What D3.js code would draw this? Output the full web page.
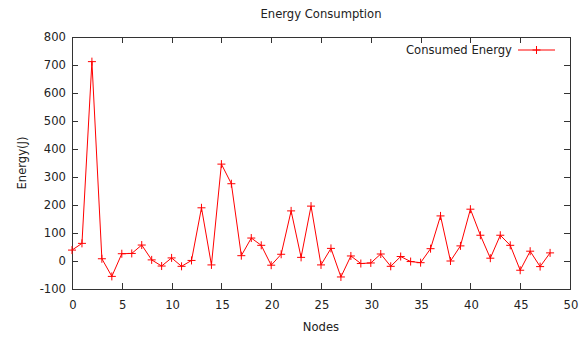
<!DOCTYPE html>
<html>
<head>
<meta charset="utf-8">
<script src="https://d3js.org/d3.v7.min.js"></script>
<style>
  body { margin: 0; background: #fff; }
  svg text { font-family: "DejaVu Sans", sans-serif; font-size: 11.6px; fill: #222; }
</style>
</head>
<body>
<svg width="582" height="337"></svg>
<script>
// energy per node
var nodes = d3.range(0, 49);
var energy = [39, 63, 712, 8, -55, 26, 27, 57, 4, -18,
              11, -19, 2, 190, -14, 346, 276, 19, 82, 56,
              -15, 24, 179, 13, 196, -14, 45, -57, 18, -9,
              -7, 25, -19, 16, -2, -6, 44, 161, 0, 54,
              185, 92, 10, 92, 56, -33, 35, -20, 29];
var xTicks = [0, 5, 10, 15, 20, 25, 30, 35, 40, 45, 50];
var yTicks = [-100, 0, 100, 200, 300, 400, 500, 600, 700, 800];

var width = 582, height = 337;
var margin = {left: 72, right: 12, top: 37, bottom: 48};

var x = d3.scaleLinear().domain([0, 50]).range([margin.left, width - margin.right]);
var y = d3.scaleLinear().domain([-100, 800]).range([height - margin.bottom, margin.top]);

var svg = d3.select('svg');
var red = '#ff0000';

// border box
svg.append('rect')
  .attr('x', x(0) + 0.5).attr('y', y(800) + 0.5)
  .attr('width', x(50) - x(0)).attr('height', y(-100) - y(800))
  .attr('fill', 'none').attr('stroke', '#333').attr('stroke-width', 1);

var tickLen = 6;
var gx = svg.append('g');
xTicks.forEach(function (t) {
  var px = Math.round(x(t)) + 0.5;
  if (t > 0 && t < 50) {
    gx.append('line').attr('x1', px).attr('x2', px)
      .attr('y1', y(-100)).attr('y2', y(-100) - tickLen).attr('stroke', '#333');
    gx.append('line').attr('x1', px).attr('x2', px)
      .attr('y1', y(800)).attr('y2', y(800) + tickLen).attr('stroke', '#333');
  }
  gx.append('text').attr('x', x(t) + 1).attr('y', y(-100) + 20)
    .attr('text-anchor', 'middle').text(t);
});

var gy = svg.append('g');
yTicks.forEach(function (t) {
  var py = Math.round(y(t)) + 0.5;
  if (t > -100 && t < 800) {
    gy.append('line').attr('x1', x(0)).attr('x2', x(0) + tickLen)
      .attr('y1', py).attr('y2', py).attr('stroke', '#333');
    gy.append('line').attr('x1', x(50)).attr('x2', x(50) - tickLen)
      .attr('y1', py).attr('y2', py).attr('stroke', '#333');
  }
  gy.append('text').attr('x', x(0) - 6).attr('y', y(t) + 4)
    .attr('text-anchor', 'end').text(t);
});

// series line
var line = d3.line()
  .x(function (d, i) { return x(nodes[i]); })
  .y(function (d) { return y(d); });

svg.append('path')
  .datum(energy)
  .attr('d', line)
  .attr('fill', 'none')
  .attr('stroke', red)
  .attr('stroke-width', 1);

function plus(g, cx, cy) {
  g.append('line').attr('x1', cx - 4).attr('x2', cx + 4).attr('y1', cy).attr('y2', cy).attr('stroke', red);
  g.append('line').attr('x1', cx).attr('x2', cx).attr('y1', cy - 4).attr('y2', cy + 4).attr('stroke', red);
}

var gm = svg.append('g');
energy.forEach(function (d, i) { plus(gm, x(nodes[i]), y(d)); });

// legend
svg.append('text').attr('x', 512).attr('y', 54).attr('text-anchor', 'end').text('Consumed Energy');
svg.append('line').attr('x1', 518).attr('x2', 555).attr('y1', 50).attr('y2', 50).attr('stroke', red);
plus(svg, 536.5, 50);

// titles
svg.append('text').attr('x', (x(0) + x(50)) / 2).attr('y', 18)
  .attr('text-anchor', 'middle').text('Energy Consumption');
svg.append('text').attr('x', (x(0) + x(50)) / 2).attr('y', 331)
  .attr('text-anchor', 'middle').text('Nodes');
svg.append('text')
  .attr('transform', 'rotate(-90)')
  .attr('x', -(y(-100) + y(800)) / 2)
  .attr('y', 26)
  .attr('text-anchor', 'middle')
  .text('Energy(J)');
</script>
</body>
</html>
